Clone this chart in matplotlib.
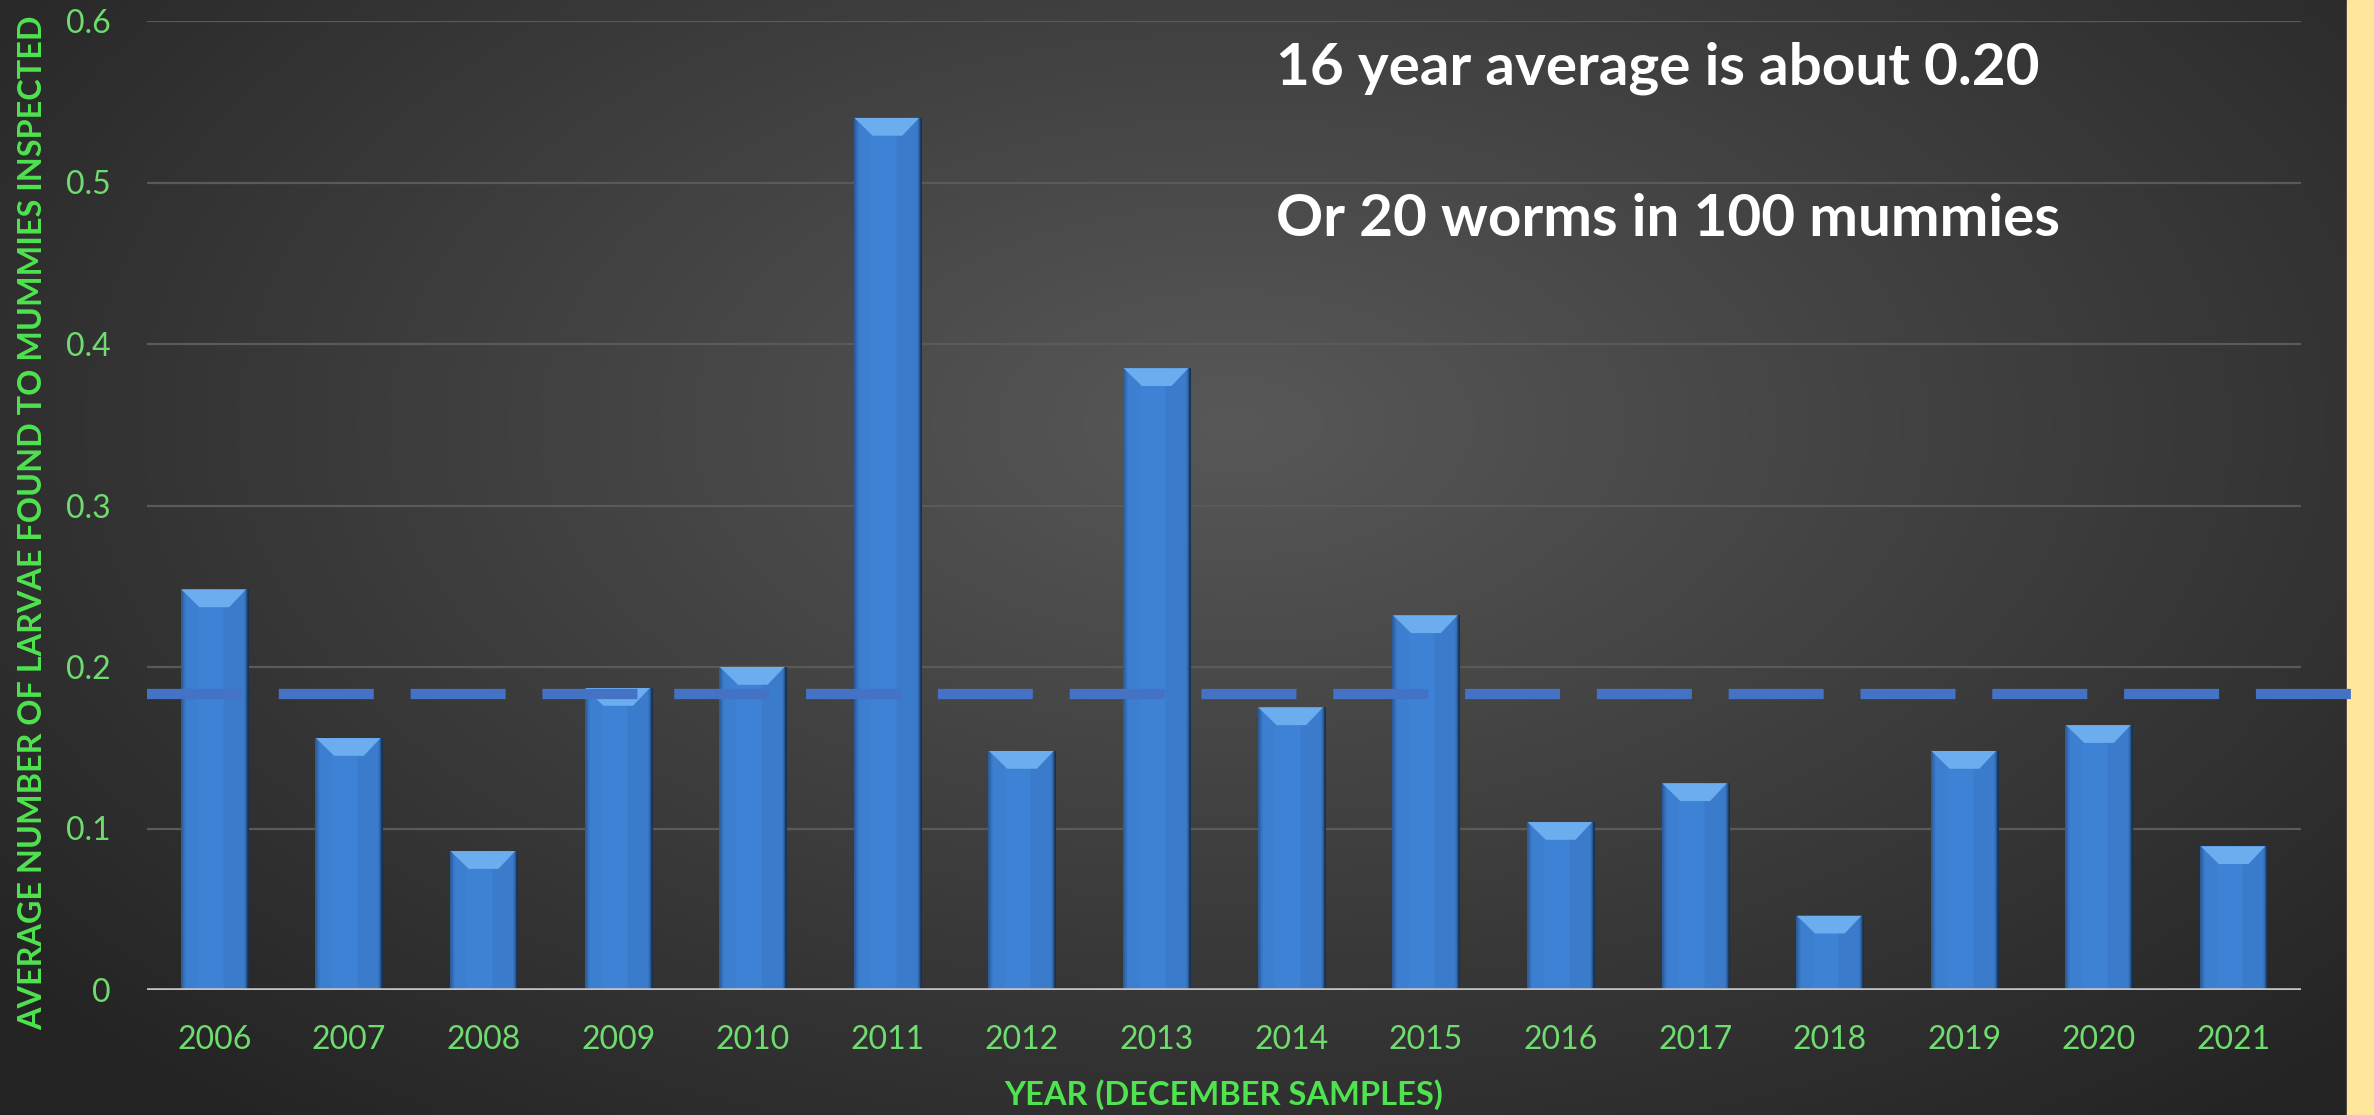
import numpy as np
import matplotlib
matplotlib.use("Agg")
import matplotlib.pyplot as plt
from matplotlib.patches import Rectangle, Polygon

# -------- Data
years = ["2006", "2007", "2008", "2009", "2010", "2011", "2012", "2013",
         "2014", "2015", "2016", "2017", "2018", "2019", "2020", "2021"]
larvae_per_mummy = [0.248, 0.156, 0.086, 0.187, 0.200, 0.540, 0.148, 0.385,
                    0.175, 0.232, 0.104, 0.128, 0.046, 0.148, 0.164, 0.089]
average_line = 0.183
y_ticks = [0, 0.1, 0.2, 0.3, 0.4, 0.5, 0.6]
y_tick_labels = ["0", "0.1", "0.2", "0.3", "0.4", "0.5", "0.6"]
note_lines = ["16 year average is about 0.20", "Or 20 worms in 100 mummies"]

# -------- Style
W, H = 2374, 1115
GREEN_TICK = "#6fdc6f"
GREEN_LABEL = "#4fe34f"
BAR_BLUE = "#3d80d4"
DASH_BLUE = "#4472c4"
YELLOW = "#ffe69c"

plt.rcParams["font.family"] = ["Lato", "DejaVu Sans"]
plt.rcParams["lines.scale_dashes"] = False

fig = plt.figure(figsize=(W / 100, H / 100), dpi=100)

# background: dark radial gradient + yellow strip on the right
bg = fig.add_axes([0, 0, 1, 1], zorder=-10)
bg.set_axis_off()
gx, gy = np.meshgrid(np.linspace(0, 1, 400), np.linspace(0, 1, 200))
r = np.sqrt(((gx - 0.52) / 0.62) ** 2 + ((gy - 0.62) / 0.75) ** 2)
shade = np.clip(0.345 - 0.19 * r, 0.145, 0.345)
bg.imshow(np.dstack([shade] * 3), extent=[0, 1, 0, 1], origin="lower",
          aspect="auto", interpolation="bicubic")
bg.add_patch(Rectangle((2347 / W, 0), 1, 1, color=YELLOW, transform=bg.transAxes))
bg.set_xlim(0, 1)
bg.set_ylim(0, 1)

ax = fig.add_axes([147 / W, 125 / H, 2154 / W, 969 / H])
ax.patch.set_alpha(0)
x = np.arange(len(years))
ax.set_xlim(-0.5, len(years) - 0.5)
ax.set_ylim(0, 0.6)

for t in y_ticks[1:]:
    ax.axhline(t, color="#5a5a5a", lw=1.6, zorder=0)
ax.axhline(0, color="#c4c4c4", lw=2.6, zorder=4)

bars = ax.bar(x, larvae_per_mummy, width=0.5, color=BAR_BLUE,
              edgecolor="none", zorder=2)

# bevelled look for each bar: soft horizontal shading, dark right rim, light top
grad = np.ones(32)
grad[0] = 0.72
grad[1] = 0.88
grad[2:8] = 0.97
grad[20:30] = 0.95
grad[30] = 0.8
grad[31] = 0.38
base = np.array([0.245, 0.51, 0.84])
cols = np.clip(base[None, :] * grad[:, None], 0, 1)
for b in bars:
    x0, w, h = b.get_x(), b.get_width(), b.get_height()
    im = ax.imshow(cols[None, :, :], extent=[x0, x0 + w, 0, h],
                   aspect="auto", interpolation="bilinear", zorder=2)
    im.set_clip_path(b)
    bev = 0.011
    inset = 0.28 * w
    ax.add_patch(Polygon([(x0 + 0.01 * w, h), (x0 + 0.97 * w, h),
                          (x0 + w - inset, h - bev), (x0 + inset, h - bev)],
                         closed=True, color="#6cadf0", lw=0, zorder=3))

# average dashed line (runs past the plot edge)
x_end = ax.get_xlim()[1] + 51 / 134.6
ax.plot([ax.get_xlim()[0], x_end], [average_line, average_line],
        color=DASH_BLUE, lw=7.4, dashes=(68.4, 26.5), solid_capstyle="butt",
        dash_capstyle="butt", clip_on=False, zorder=5)

ax.set_xticks(x)
ax.set_xticklabels(years)
ax.set_yticks(y_ticks)
ax.set_yticklabels(y_tick_labels)
ax.tick_params(axis="x", length=0, pad=25, labelsize=23, labelcolor=GREEN_TICK)
ax.tick_params(axis="y", length=0, pad=26, labelsize=23, labelcolor=GREEN_TICK)
for s in ax.spines.values():
    s.set_visible(False)

ax.set_xlabel("YEAR (DECEMBER SAMPLES)", color=GREEN_LABEL, fontsize=23.5,
              fontweight="bold", va="center")
ax.xaxis.set_label_coords(0.5, -0.108)
ax.set_ylabel("AVERAGE NUMBER OF LARVAE FOUND TO MUMMIES INSPECTED",
              color=GREEN_LABEL, fontsize=23.3, fontweight="bold", va="center")
ax.yaxis.set_label_coords(-0.053, 0.482)

fig.text(1276 / W, 1 - 68 / H, note_lines[0], color="white", fontsize=42,
         fontweight="bold", ha="left", va="center")
fig.text(1276 / W, 1 - 220 / H, note_lines[1], color="white", fontsize=42,
         fontweight="bold", ha="left", va="center")

fig.savefig("out.png", dpi=100)
